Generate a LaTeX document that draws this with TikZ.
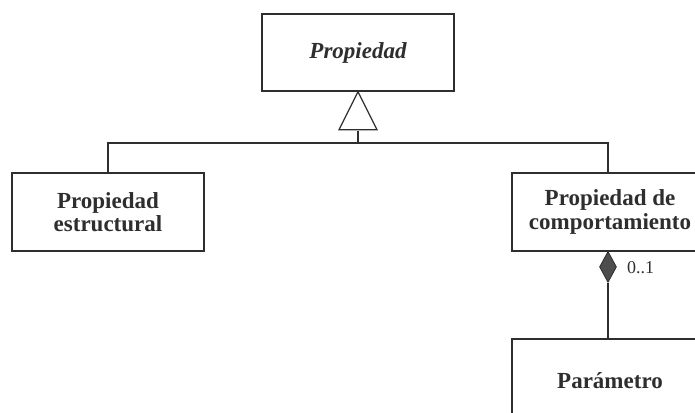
\documentclass[tikz,border=0pt]{standalone}
\usepackage{fontspec}
\setmainfont{Liberation Serif}
\usetikzlibrary{shapes.geometric}
\definecolor{ink}{HTML}{2E2E2E}
\begin{document}
\begin{tikzpicture}[x=1pt,y=-1pt,
  classbox/.style={draw=ink,line width=1.6pt,fill=white,inner sep=0pt,
    align=center,font=\fontsize{23}{23.5}\selectfont\bfseries,text=ink},
  link/.style={draw=ink,line width=1.2pt},
  composite/.style={diamond,draw=ink,fill=ink!85,line width=0.8pt,inner sep=0pt,
    minimum width=17pt,minimum height=31pt,aspect=0.55},
  mult/.style={font=\fontsize{18}{20}\selectfont,text=ink,inner sep=0pt}]
  \useasboundingbox (0,0) rectangle (695,412);
  \clip (0,0) rectangle (695,412);

  % classes
  \node[classbox,minimum width=192pt,minimum height=77pt] (prop) at (358,52.5)
    {\itshape Propiedad};
  \node[classbox,minimum width=192pt,minimum height=78pt] (struct) at (108,212)
    {Propiedad\\estructural};
  \node[classbox,minimum width=196pt,minimum height=78pt] (behav) at (610,212)
    {Propiedad de\\comportamiento};
  \node[classbox,minimum width=196pt,minimum height=84pt,anchor=north] (param) at (610,338)
    {\raisebox{-1pt}{Parámetro}};

  % generalization: hollow triangle and bus
  \coordinate (bus) at (358,143);
  \draw[link] (prop.south) -- ++(-19,38) -- ++(38,0) -- cycle;
  \draw[link] (358,131) -- (bus);
  \draw[link] (struct.north) -- (struct.north |- bus) -- (608,143) -- (608,173);

  % composition with multiplicity
  \node[composite,anchor=north] (dia) at (608,251) {};
  \draw[link] (dia.south) -- (dia.south |- param.north);
  \node[mult,anchor=west] (m) at (627,268) {0..1};
\end{tikzpicture}
\end{document}
